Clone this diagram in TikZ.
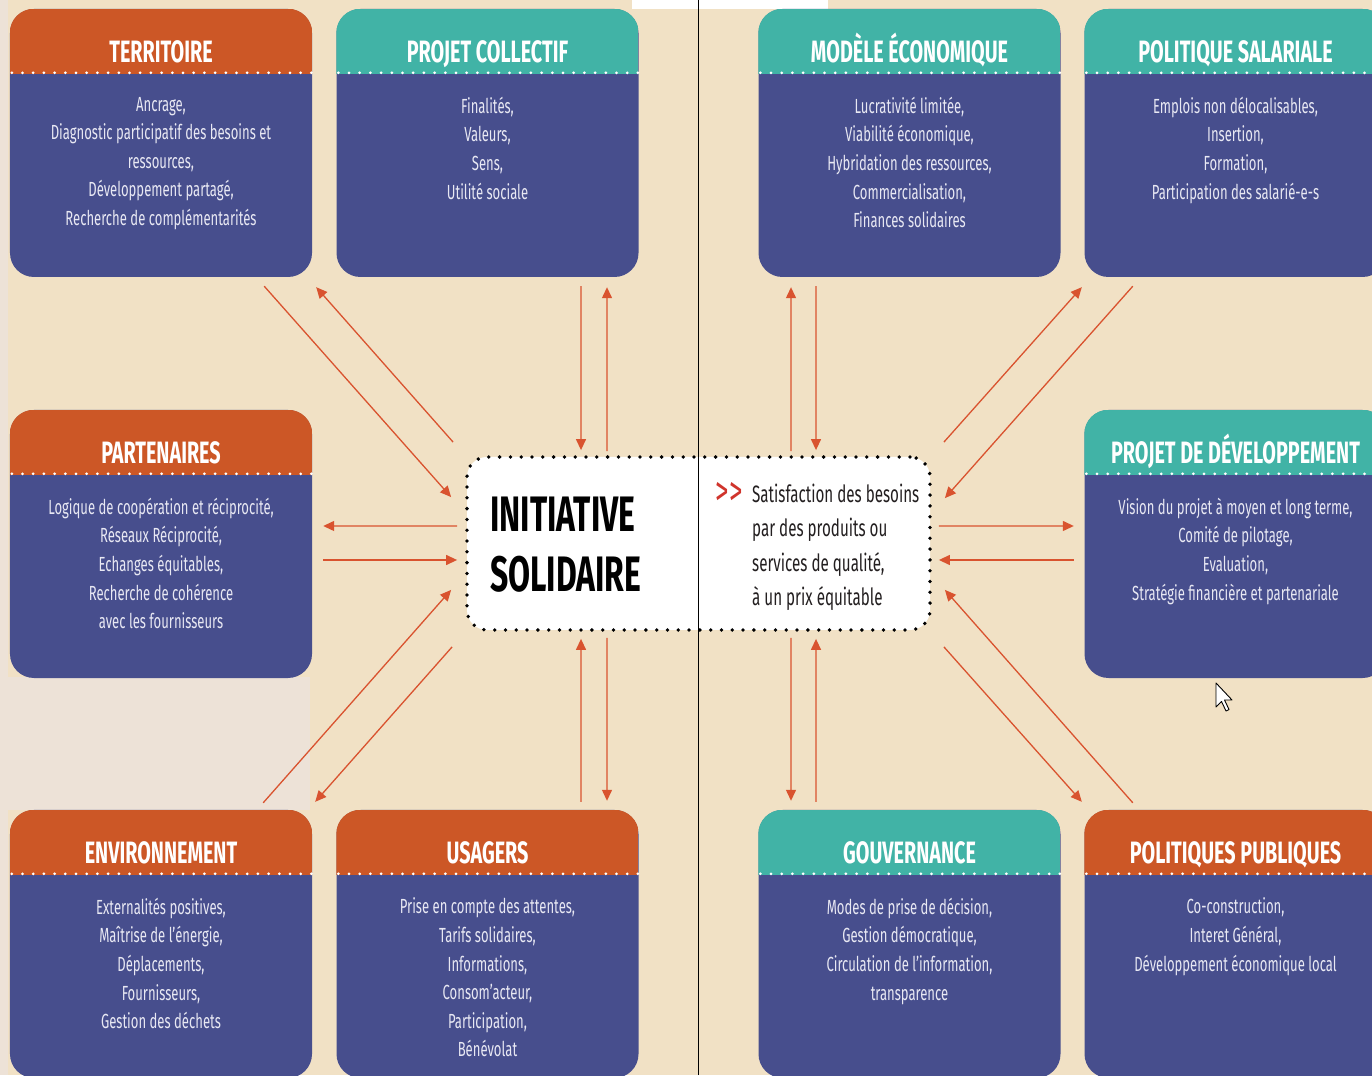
\documentclass[tikz,border=0pt]{standalone}
\usepackage{fontspec}
\setmainfont[FakeStretch=0.64]{Fira Sans}
\usetikzlibrary{calc,arrows.meta}

\definecolor{paper}{HTML}{F1E1C5}
\definecolor{haze}{HTML}{EDE2D7}
\definecolor{rust}{HTML}{CC5726}
\definecolor{jade}{HTML}{41B3A6}
\definecolor{indigo}{HTML}{474E8D}
\definecolor{lilac}{HTML}{E8E8F3}
\definecolor{linkred}{HTML}{D9532F}
\definecolor{ink}{HTML}{231F20}
\definecolor{chevron}{HTML}{D0342C}

% one theme card: name, centre x, top y, header colour, heading, lines
\newcommand\panelbox[6]{%
  \node[panel] (#1) at (#2,#3-134) {};
  \begin{scope}
    \clip[rounded corners=24bp] (#1.south west) rectangle (#1.north east);
    \fill[#4] (#1.north west) rectangle ($(#1.north east)+(0,-65)$);
  \end{scope}
  \draw[hdots] ($(#1.north west)+(2,-64)$) -- ($(#1.north east)+(2,-64)$);
  \node[headtext] (#1-t) at ($(#1.north)+(0,-54)$) {#5};
  \node[bodytext] (#1-b) at ($(#1.north)+(0,-88)$) {#6};
}

\begin{document}
\begin{tikzpicture}[x=1bp,y=1bp,
  panel/.style={rectangle, rounded corners=24bp, fill=indigo,
    minimum width=302bp, minimum height=268bp, inner sep=0pt},
  hdots/.style={white, line width=3bp, line cap=round,
    dash pattern=on 0bp off 10.7bp},
  headtext/.style={anchor=base, text=white, inner sep=0pt,
    font={\fontsize{31}{33}\selectfont\bfseries}},
  bodytext/.style={anchor=north, align=center, text=lilac, inner sep=0pt,
    font={\fontsize{20.5}{28.7}\selectfont}},
  hub/.style={rectangle, rounded corners=20bp, fill=white, draw=black,
    line width=3.8bp, line cap=round, dash pattern=on 0bp off 10.8bp,
    minimum width=463bp, minimum height=173bp, inner sep=0pt},
  flow/.style={draw=linkred, line width=1.3bp,
    -{Triangle[length=11bp,width=10bp]}}
]
\clip (0,0) rectangle (1372,1075);
\fill[paper] (0,0) rectangle (1372,1075);
\fill[haze] (0,0) rectangle (8,1075);
\fill[haze] (0,265) rectangle (310,398);
\fill[white] (632,1066) rectangle (828,1075);

% theme cards
\panelbox{terr}{161}{1066}{rust}{TERRITOIRE}{Ancrage,\\Diagnostic participatif des besoins et\\ressources,\\Développement partagé,\\Recherche de complémentarités}
\panelbox{proj}{487.5}{1066}{jade}{PROJET COLLECTIF}{Finalités,\\Valeurs,\\Sens,\\Utilité sociale}
\panelbox{model}{909.5}{1066}{jade}{MODÈLE ÉCONOMIQUE}{Lucrativité limitée,\\Viabilité économique,\\Hybridation des ressources,\\Commercialisation,\\Finances solidaires}
\panelbox{sal}{1235.5}{1066}{jade}{POLITIQUE SALARIALE}{Emplois non délocalisables,\\Insertion,\\Formation,\\Participation des salarié-e-s}
\panelbox{part}{161}{665}{rust}{PARTENAIRES}{Logique de coopération et réciprocité,\\Réseaux Réciprocité,\\Echanges équitables,\\Recherche de cohérence\\avec les fournisseurs}
\panelbox{dev}{1235.5}{665}{jade}{PROJET DE DÉVELOPPEMENT}{Vision du projet à moyen et long terme,\\Comité de pilotage,\\Evaluation,\\Stratégie financière et partenariale}
\panelbox{env}{161}{265}{rust}{ENVIRONNEMENT}{Externalités positives,\\Maîtrise de l’énergie,\\Déplacements,\\Fournisseurs,\\Gestion des déchets}
\panelbox{usa}{487.5}{265}{rust}{USAGERS}{Prise en compte des attentes,\\Tarifs solidaires,\\Informations,\\Consom’acteur,\\Participation,\\Bénévolat}
\panelbox{gouv}{909.5}{265}{jade}{GOUVERNANCE}{Modes de prise de décision,\\Gestion démocratique,\\Circulation de l’information,\\transparence}
\panelbox{pub}{1235.5}{265}{rust}{POLITIQUES PUBLIQUES}{Co-construction,\\Interet Général,\\Développement économique local}

% central initiative
\node[hub] (core) at (698.5,531.5) {};
\draw[line width=1bp] (698,0) -- (698,1075);
\node[anchor=base west, inner sep=0pt, font={\fontsize{50}{54}\selectfont\bfseries}] (init1) at (490,543) {INITIATIVE};
\node[anchor=base west, inner sep=0pt, font={\fontsize{50}{54}\selectfont\bfseries}] (init2) at (490,483) {SOLIDAIRE};
\node[anchor=base west, inner sep=0pt, text=chevron, font={\fontsize{42}{44}\selectfont}] (chev) at (715,569) {>\kern1bp>};
\node[anchor=north west, align=left, inner sep=0pt, text=ink, font={\fontsize{23.8}{34.3}\selectfont}] (goal) at (752,591) {Satisfaction des besoins\\par des produits ou\\services de qualité,\\à un prix équitable};

% exchanges between the cards and the initiative
\draw[flow] ($(terr.south east)+(-48,-9)$) -- ($(core.north west)+(-14,-42)$);
\draw[flow] ($(core.north west)+(-12,13)$) -- ($(terr.south east)+(4,-10)$);
\draw[flow] ($(proj.south)+(93.5,-9)$) -- ($(core.north)+(-117.5,5)$);
\draw[flow] ($(core.north)+(-91.5,4)$) -- ($(proj.south)+(119.5,-10)$);
\draw[flow] ($(core.north)+(92.5,4)$) -- ($(model.south)+(-118.5,-10)$);
\draw[flow] ($(model.south)+(-93.5,-9)$) -- ($(core.north)+(117.5,5)$);
\draw[flow] ($(core.north east)+(12,13)$) -- ($(sal.south west)+(-2.5,-10)$);
\draw[flow] ($(sal.south west)+(48.5,-9)$) -- ($(core.north east)+(13,-43)$);
\draw[flow] ($(core.west)+(-8,17.5)$) -- ($(part.east)+(11,18)$);
\draw[flow] ($(part.east)+(11,-16)$) -- ($(core.west)+(-8,-16.5)$);
\draw[flow] ($(core.east)+(7,17.5)$) -- ($(dev.west)+(-10.5,18)$);
\draw[flow] ($(dev.west)+(-10.5,-16)$) -- ($(core.east)+(7,-16.5)$);
\draw[flow] ($(env.north east)+(-49,7)$) -- ($(core.south west)+(-14,42)$);
\draw[flow] ($(core.south west)+(-13,-15)$) -- ($(env.north east)+(3,8)$);
\draw[flow] ($(usa.north)+(93.5,8)$) -- ($(core.south)+(-117.5,-7)$);
\draw[flow] ($(core.south)+(-91.5,-6)$) -- ($(usa.north)+(119.5,9)$);
\draw[flow] ($(core.south)+(92.5,-6)$) -- ($(gouv.north)+(-118.5,9)$);
\draw[flow] ($(gouv.north)+(-93.5,8)$) -- ($(core.south)+(117.5,-7)$);
\draw[flow] ($(pub.north west)+(48.5,7)$) -- ($(core.south east)+(13,42)$);
\draw[flow] ($(core.south east)+(12,-15)$) -- ($(pub.north west)+(-2.5,8)$);

% mouse pointer
\filldraw[fill=white, draw=black, line width=0.9bp, line join=round]
  (1216,392) -- (1216,368) -- (1221.5,373.5) -- (1226,364) -- (1229,365.5)
  -- (1224.5,375) -- (1232,375) -- cycle;
\end{tikzpicture}
\end{document}
